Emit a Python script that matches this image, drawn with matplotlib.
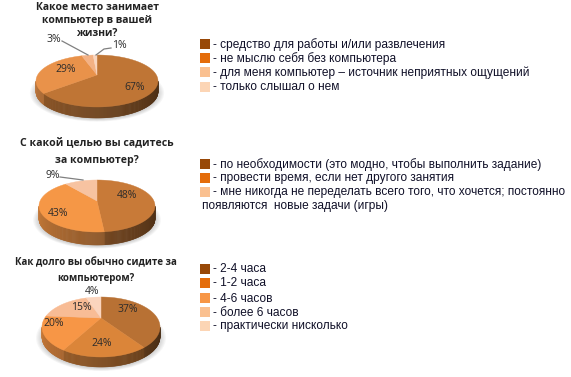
import numpy as np
import matplotlib
matplotlib.use("Agg")
import matplotlib.pyplot as plt
from matplotlib.patches import Polygon, Ellipse, Rectangle

# данные
titles1 = ["Какое место занимает", "компьютер в вашей", "жизни?"]
values1 = [67, 29, 3, 1]
legend1 = ["- средство для работы и/или развлечения",
           "- не мыслю себя без компьютера",
           "- для меня компьютер – источник неприятных ощущений",
           "- только слышал о нем"]

titles2 = ["С какой целью вы садитесь", "за компьютер?"]
values2 = [48, 43, 9]
legend2 = ["- по необходимости (это модно, чтобы выполнить задание)",
           "- провести время, если нет другого занятия",
           "- мне никогда не переделать всего того, что хочется; постоянно"]
legend2_extra = "появляются  новые задачи (игры)"

titles3 = ["Как долго вы обычно сидите за", "компьютером?"]
values3 = [37, 24, 20, 15, 4]
legend3 = ["- 2-4 часа", "- 1-2 часа", "- 4-6 часов", "- более 6 часов",
           "- практически нисколько"]

colors1 = ["#BF7535", "#E9924A", "#F3B184", "#FAD6BF"]
colors2 = ["#C87A38", "#F59746", "#F7C3A1"]
colors3 = ["#B87134", "#DB8539", "#F79646", "#F8BC95", "#FBD5BE"]
swatches1 = ["#984807", "#E46C0A", "#FAC090", "#FCD5B5"]
swatches2 = ["#984807", "#E46C0A", "#FAC090"]
swatches3 = ["#984807", "#E46C0A", "#F79646", "#FAC090", "#FCD5B5"]

fig = plt.figure(figsize=(5.71, 3.77), dpi=100)
ax = fig.add_axes([0, 0, 1, 1])
ax.set_xlim(0, 571)
ax.set_ylim(377, 0)
ax.axis("off")


def shade(col, k):
    return tuple(c * k for c in matplotlib.colors.to_rgb(col))


def draw_pie(cx, cy, rx, ry, depth, apex_y, values, colors):
    # мягкая тень под диаграммой
    for g in np.linspace(1.10, 1.0, 6):
        ax.add_patch(Ellipse((cx, cy + depth + 1), 2 * rx * g, 2 * ry * g,
                             fc="#808080", ec="none", alpha=0.07, zorder=1))
    edges = np.cumsum([0] + list(values)) / sum(values) * 2 * np.pi
    # боковая стенка с градиентом
    for i, col in enumerate(colors):
        a, b = edges[i], edges[i + 1]
        lo, hi = max(a, np.pi / 2), min(b, 3 * np.pi / 2)
        if hi <= lo:
            continue
        ts = np.linspace(lo, hi, max(int((hi - lo) * 60), 2))
        for t0, t1 in zip(ts[:-1], ts[1:]):
            k = 0.38 + 0.42 * (t0 - np.pi / 2) / np.pi
            x0, x1 = cx + rx * np.sin(t0), cx + rx * np.sin(t1)
            y0, y1 = cy - ry * np.cos(t0), cy - ry * np.cos(t1)
            c = shade(col, k)
            ax.add_patch(Polygon([(x0, y0), (x1, y1), (x1, y1 + depth), (x0, y0 + depth)],
                                 fc=c, ec=c, lw=0.4, zorder=2))
    # верхняя грань, вершина секторов чуть выше центра эллипса
    for i, col in enumerate(colors):
        ts = np.linspace(edges[i], edges[i + 1], 80)
        pts = [(cx, apex_y)] + list(zip(cx + rx * np.sin(ts), cy - ry * np.cos(ts)))
        ax.add_patch(Polygon(pts, fc=col, ec=col, lw=0.3, zorder=3))


def pct(x, y, v):
    ax.text(x, y, f"{v}%", ha="center", va="center", fontsize=7.5,
            family="Open Sans", color="#2b2b2b", zorder=5)


def title(x, ys, lines, size):
    for y, line in zip(ys, lines):
        ax.text(x, y, line, ha="center", va="center", fontsize=size,
                family="Open Sans", weight="bold", color="#222222")


def legend(ys, labels, swatches, size=8.6):
    for y, label, col in zip(ys, labels, swatches):
        ax.add_patch(Rectangle((200, y - 5), 10, 10, fc=col, ec="none"))
        ax.text(213, y + 0.5, label, ha="left", va="center", fontsize=size,
                family="Liberation Sans", color="#101028")


# первая диаграмма
title(97, [8, 20, 33], titles1, 7.5)
draw_pie(97, 81, 61, 26, 11, 75, values1, colors1)
pct(135, 88, values1[0])
pct(66, 69, values1[1])
pct(54, 40, values1[2])
pct(119, 46, values1[3])
ax.plot([62, 88], [41, 55], color="#808080", lw=0.9, zorder=4)
ax.plot([96, 104, 111], [55, 49, 48], color="#808080", lw=0.9, zorder=4)
legend([44, 58, 72, 87], legend1, swatches1)

# вторая диаграмма
title(97, [144, 160], titles2, 7.6)
draw_pie(97, 206, 58, 26, 13, 201, values2, colors2)
pct(127, 195, values2[0])
pct(58, 213, values2[1])
pct(53, 175, values2[2])
ax.plot([60, 83], [177, 180], color="#808080", lw=0.9, zorder=4)
legend([164, 178, 192], legend2, swatches2)
ax.text(202, 206.5, legend2_extra, ha="left", va="center", fontsize=8.6,
        family="Liberation Sans", color="#101028")

# третья диаграмма
title(96, [263, 278], titles3, 7.0)
draw_pie(101, 327, 59, 30, 10, 318, values3, colors3)
pct(128, 310, values3[0])
pct(102, 344, values3[1])
pct(54, 324, values3[2])
pct(81, 308, values3[3])
pct(92, 291, values3[4])
legend([269, 283, 298, 312, 326], legend3, swatches3)

fig.savefig("out.png", dpi=100)
